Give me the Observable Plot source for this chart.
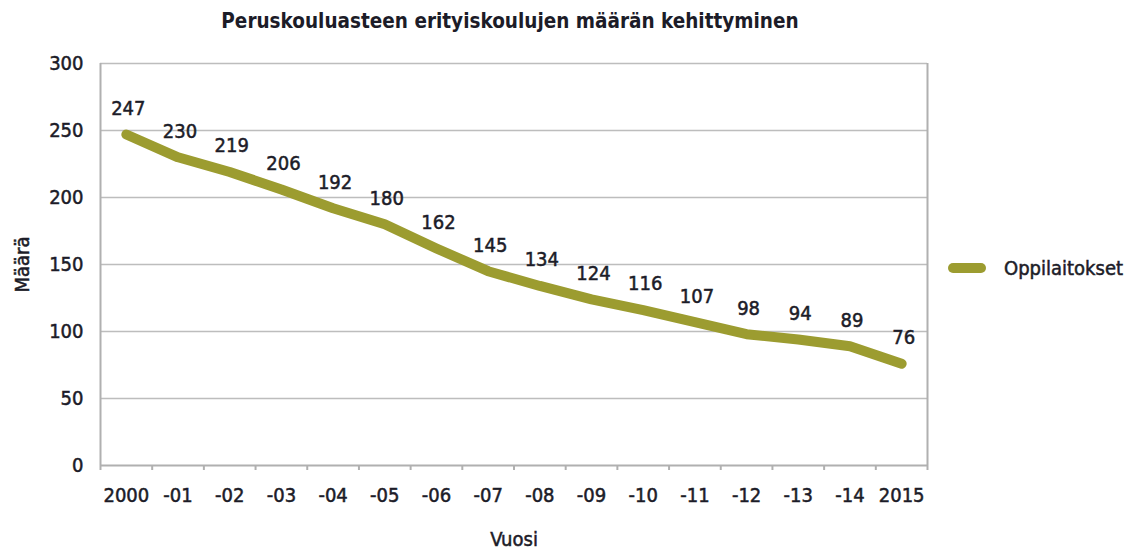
<!DOCTYPE html>
<html><head><meta charset="utf-8">
<script src="https://cdn.jsdelivr.net/npm/d3@7"></script>
<script src="https://cdn.jsdelivr.net/npm/@observablehq/plot@0.6"></script>
<style>
body{margin:0;background:#fff;}
#wrap{position:relative;width:1136px;height:549px;font-family:"DejaVu Sans Condensed",sans-serif;color:#1c1c28;}
#title{position:absolute;left:0;width:1020px;top:9px;text-align:center;font-weight:bold;font-size:20.5px;}
#legend{position:absolute;left:948px;top:256px;display:flex;align-items:center;font-size:20px;-webkit-text-stroke:0.5px #1c1c28;}
#legend .sw{width:38px;height:10px;border-radius:5px;background:#9c9c30;margin-right:18px;}
#chart{position:absolute;left:0;top:0;}
#chart text{stroke:#1c1c28;stroke-width:0.5px;}
</style></head>
<body><div id="wrap"><div id="chart"></div><div id="title"></div><div id="legend"><div class="sw"></div><span id="legtext"></span></div></div>
<script>
const title = "Peruskouluasteen erityiskoulujen määrän kehittyminen";
const seriesName = "Oppilaitokset";
const years = [2000,2001,2002,2003,2004,2005,2006,2007,2008,2009,2010,2011,2012,2013,2014,2015];
const tickLabels = ["2000","-01","-02","-03","-04","-05","-06","-07","-08","-09","-10","-11","-12","-13","-14","2015"];
const values = [247,230,219,206,192,180,162,145,134,124,116,107,98,94,89,76];
const yTicks = [0,50,100,150,200,250,300];
const xLabel = "Vuosi";
const yLabel = "Määrä";

document.getElementById("title").textContent = title;
document.getElementById("legtext").textContent = seriesName;

const data = years.map((y,i)=>({year:y, value:values[i]}));
const bounds = years.map(y=>y-0.5).concat([years[years.length-1]+0.5]);
const textColor = "#1c1c28";
const font = "DejaVu Sans Condensed, sans-serif";

const chart = Plot.plot({
  width:1136, height:549,
  marginLeft:100, marginRight:209, marginTop:63, marginBottom:84,
  style:{fontFamily:font, color:textColor, background:"#fff"},
  x:{domain:[bounds[0], bounds[bounds.length-1]]},
  y:{domain:[0,300]},
  marks:[
    Plot.gridY(yTicks.filter(d=>d>0), {stroke:"#bdbdbd", strokeOpacity:1, strokeWidth:1.5}),
    Plot.ruleY([0], {stroke:"#b0b0b0", strokeWidth:2}),
    Plot.ruleX([bounds[0], bounds[bounds.length-1]], {stroke:"#b0b0b0", strokeWidth:2}),
    Plot.axisX({ticks:bounds, tickFormat:()=>"", tickSize:5, stroke:"#b0b0b0", strokeWidth:2, label:null}),
    Plot.axisX({ticks:years, tickFormat:d=>tickLabels[years.indexOf(d)], tickSize:0, tickPadding:22, fontSize:20, fill:textColor,
      label:xLabel, labelAnchor:"center", labelArrow:"none", labelOffset:80}),
    Plot.axisY({ticks:yTicks, tickSize:0, tickPadding:17, fontSize:20, fill:textColor,
      label:yLabel, labelAnchor:"center", labelArrow:"none", labelOffset:86}),
    Plot.line(data, {x:"year", y:"value", stroke:"#9c9c30", strokeWidth:10, strokeLinecap:"round", strokeLinejoin:"round"}),
    Plot.text(data, {x:"year", y:"value", text:d=>String(d.value), dy:-26, dx:2, fontSize:20, fill:textColor})
  ]
});
document.getElementById("chart").appendChild(chart);
</script></body></html>
